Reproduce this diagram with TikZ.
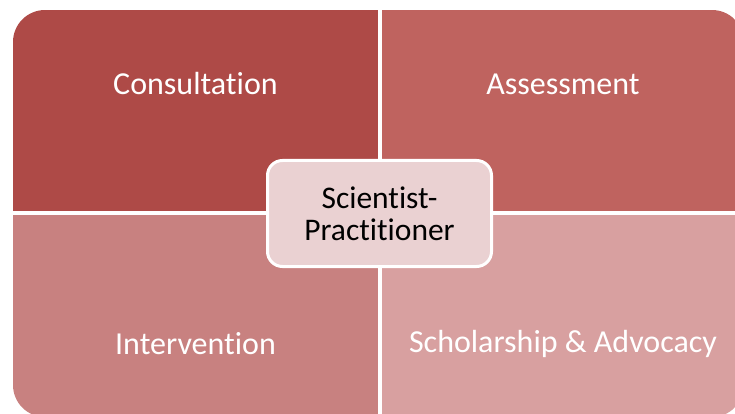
\documentclass[tikz,border=0pt]{standalone}
\usepackage{fontspec}
\setmainfont{Carlito}[Ligatures=CommonOff]
\usetikzlibrary{positioning}
\definecolor{consult}{HTML}{AE4A47}
\definecolor{assess}{HTML}{BF635F}
\definecolor{interv}{HTML}{C88180}
\definecolor{scholar}{HTML}{D8A0A0}
\definecolor{core}{HTML}{EAD1D2}

\begin{document}
\begin{tikzpicture}[x=1pt,y=-1pt,
	quad/.style={text=white,font=\fontsize{32}{36}\selectfont},
	hub/.style={draw=white,line width=3pt,fill=core,rounded corners=15pt,
		minimum width=224pt,minimum height=106pt,align=center,
		font=\fontsize{31.5}{32}\selectfont}]
	\useasboundingbox (0,0) rectangle (735,414);
	\begin{scope}
		\clip[rounded corners=32pt] (13,10) rectangle (744,417);
		\fill[consult] (13,10) rectangle (378,211);
		\fill[assess] (382,10) rectangle (744,211);
		\fill[interv] (13,215) rectangle (378,417);
		\fill[scholar] (382,215) rectangle (744,417);
	\end{scope}
	\node[quad] (c) at (195.5,84) {Consultation};
	\node[quad] (a) at (563,84) {Assessment};
	\node[quad] (i) at (195.5,344) {Intervention};
	\node[quad] (s) at (563,344) {Scholarship \& Advocacy};
	\node[hub] (sp) at (379.5,213.5) {Scientist-\\Practitioner};
\end{tikzpicture}
\end{document}
